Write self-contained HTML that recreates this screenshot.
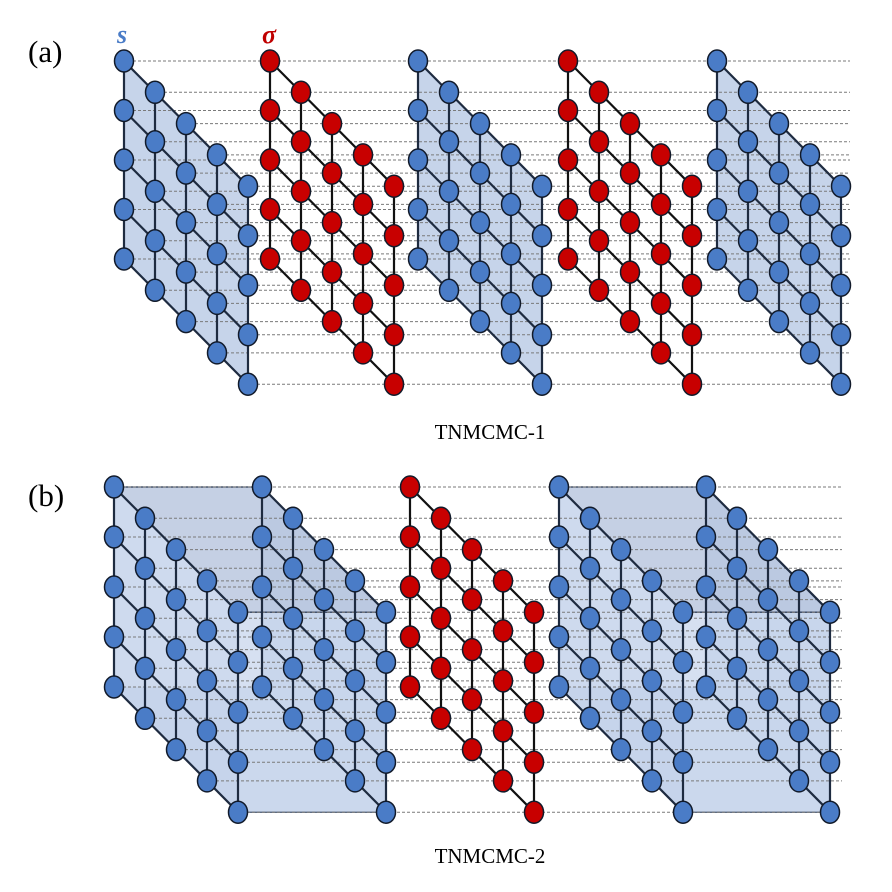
<!DOCTYPE html>
<html><head><meta charset="utf-8"><style>
html,body{margin:0;padding:0;background:#fff;}
svg{display:block;}
</style></head><body>
<svg id="s" width="892" height="892" viewBox="0 0 892 892" xmlns="http://www.w3.org/2000/svg">
<text x="28" y="62" font-family="Liberation Serif, serif" font-size="31">(a)</text>
<text x="28" y="506" font-family="Liberation Serif, serif" font-size="31">(b)</text>
<text x="117" y="43" font-family="Liberation Serif, serif" font-size="26" font-style="italic" font-weight="bold" fill="#4a7cc7">s</text>
<text x="262" y="43" font-family="Liberation Serif, serif" font-size="26" font-style="italic" font-weight="bold" fill="#c00000">σ</text>
<text x="490" y="439" text-anchor="middle" font-family="Liberation Serif, serif" font-size="21">TNMCMC-1</text>
<text x="490" y="863" text-anchor="middle" font-family="Liberation Serif, serif" font-size="21">TNMCMC-2</text>
<g id="g"></g>
</svg>
<script>
var g=document.getElementById('g');var out='';
var DX=31,DY=31.3;
function layerPts(x0,y0,vs){var p=[];for(var c=0;c<5;c++)for(var r=0;r<5;r++)p.push([x0+c*DX,y0+c*DY+r*vs,c,r]);return p;}
function para(x0,y0,vs,fill,stroke){
 var a=[x0,y0],b=[x0+4*DX,y0+4*DY],c=[b[0],b[1]+4*vs],d=[x0,y0+4*vs];
 out+='<polygon points="'+[a,b,c,d].map(function(q){return q.join(',')}).join(' ')+'" fill="'+fill+'" stroke="'+(stroke||'none')+'" stroke-width="1.2"/>';
}
var layers=[];
var va=49.5;
[[124,'b'],[270,'r'],[418,'b'],[568,'r'],[717,'b']].forEach(function(L){layers.push({x:L[0],y:61,v:va,t:L[1],end:850});});
var vb=50;
[[114,'b'],[262,'b'],[410,'r'],[559,'b'],[706,'b']].forEach(function(L){layers.push({x:L[0],y:487,v:vb,t:L[1],end:842});});
layers.forEach(function(L,i){ if(L.t=='b' && i<5) para(L.x,L.y,L.v,'#c6d4ea');});
function cube(xa,xb,y0,v){
 var ex=4*DX,ey=4*DY,h=4*v;
 para(xa,y0,v,'rgba(190,206,232,0.75)','#2a3a55');
 out+='<polygon points="'+xa+','+y0+' '+xb+','+y0+' '+(xb+ex)+','+(y0+ey)+' '+(xa+ex)+','+(y0+ey)+'" fill="rgba(150,170,205,0.55)" stroke="#2a3a55" stroke-width="1.2"/>';
 para(xb,y0,v,'rgba(170,190,222,0.35)','#2a3a55');
 out+='<rect x="'+(xa+ex)+'" y="'+(y0+ey)+'" width="'+(xb-xa)+'" height="'+h+'" fill="rgba(180,198,230,0.55)" stroke="#2a3a55" stroke-width="1.2"/>';
 out+='<polygon points="'+xa+','+(y0+h)+' '+xb+','+(y0+h)+' '+(xb+ex)+','+(y0+ey+h)+' '+(xa+ex)+','+(y0+ey+h)+'" fill="rgba(180,198,230,0.3)" stroke="none"/>';
}
cube(114,262,487,vb);cube(559,706,487,vb);
// dashed lines: only from first layer of each panel
[layers[0],layers[5]].forEach(function(L){layerPts(L.x,L.y,L.v).forEach(function(p){
 out+='<line x1="'+(p[0]+9)+'" y1="'+p[1]+'" x2="'+L.end+'" y2="'+p[1]+'" stroke="#7a7a7a" stroke-width="1" stroke-dasharray="3,2"/>';});});
layers.forEach(function(L){
 var col=L.t=='b'?'#1e2b40':'#111';
 for(var c=0;c<5;c++)out+='<line x1="'+(L.x+c*DX)+'" y1="'+(L.y+c*DY)+'" x2="'+(L.x+c*DX)+'" y2="'+(L.y+c*DY+4*L.v)+'" stroke="'+col+'" stroke-width="2.2"/>';
 for(var r=0;r<5;r++)out+='<line x1="'+L.x+'" y1="'+(L.y+r*L.v)+'" x2="'+(L.x+4*DX)+'" y2="'+(L.y+4*DY+r*L.v)+'" stroke="'+col+'" stroke-width="2.2"/>';
});
layers.forEach(function(L){
 var f=L.t=='b'?'#4a7cc7':'#c80000';
 layerPts(L.x,L.y,L.v).forEach(function(p){out+='<ellipse cx="'+p[0]+'" cy="'+p[1]+'" rx="9.5" ry="11" fill="'+f+'" stroke="#111a2a" stroke-width="1.5"/>';});
});
g.innerHTML=out;
</script>
</body></html>
